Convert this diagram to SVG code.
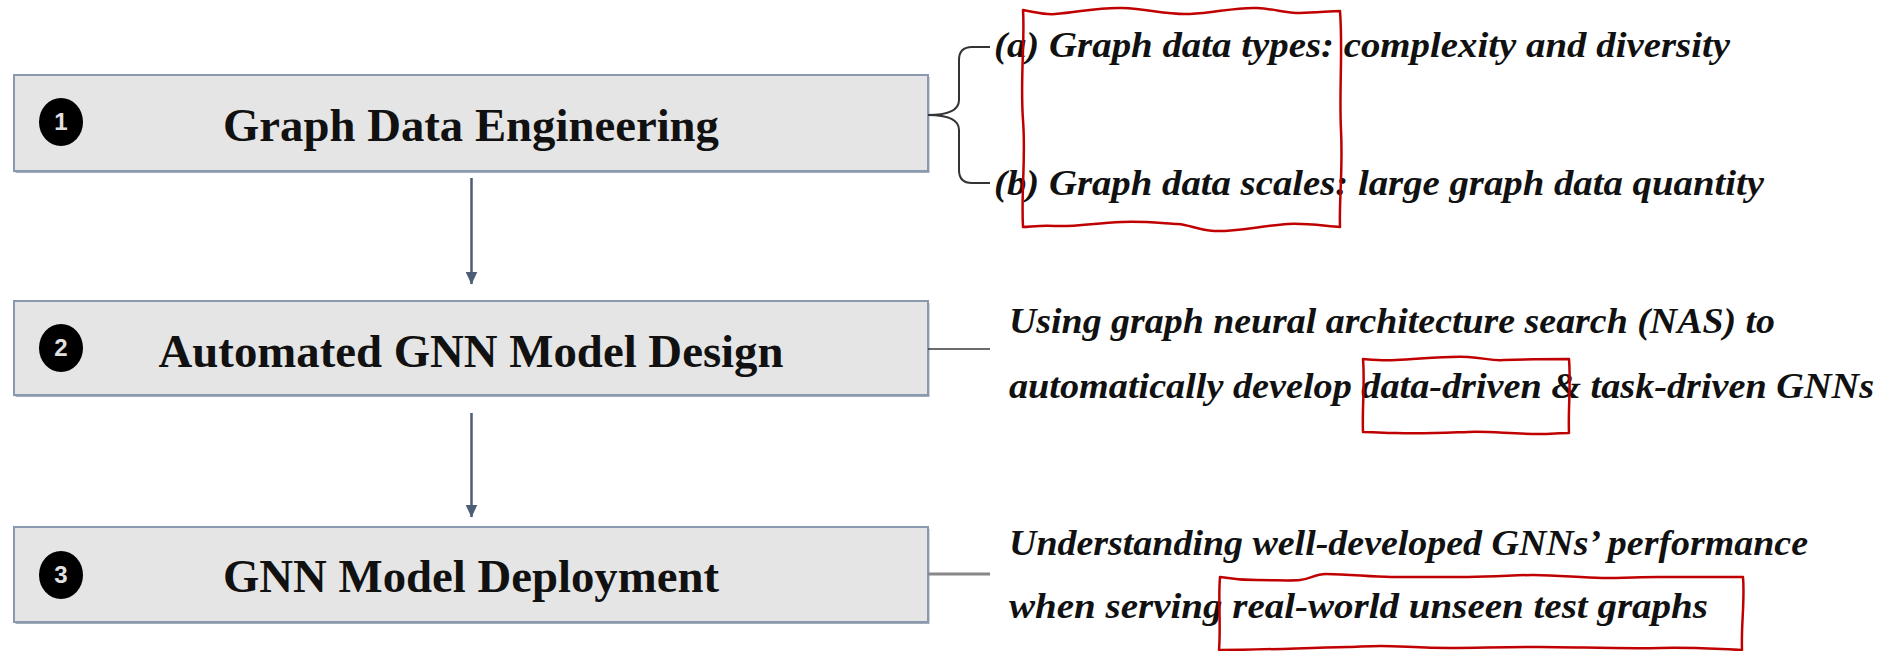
<svg xmlns="http://www.w3.org/2000/svg" width="1882" height="651" viewBox="0 0 1882 651">
<defs>
<style>
.box{fill:#e5e5e5;stroke:#8a99b0;stroke-width:2}
.shadow{fill:#a3abb9}
.title{font-family:"Liberation Serif",serif;font-weight:bold;font-size:46px;fill:#111;text-anchor:middle}
.num{fill:#000}
.numt{font-family:"Liberation Sans",sans-serif;font-weight:bold;font-size:24px;fill:#e0e0e0;text-anchor:middle}
.desc{font-family:"Liberation Serif",serif;font-weight:bold;font-style:italic;font-size:36px;fill:#111}
.red{fill:none;stroke:#c00000;stroke-width:2.5;stroke-linejoin:round}
.arrow{stroke:#4d5d75;stroke-width:2.5;fill:none}
</style>
<marker id="ah" markerWidth="6" markerHeight="6" refX="5" refY="3" orient="auto" markerUnits="strokeWidth">
<path d="M0,0.6 L5.2,3 L0,5.4 Z" fill="#4d5d75"/>
</marker>
</defs>
<rect width="1882" height="651" fill="#ffffff"/>

<g id="node1">
<rect class="shadow" x="15.5" y="77" width="914" height="96"/>
<rect class="box" x="14" y="75" width="914" height="96"/>
<ellipse class="num" cx="61" cy="122" rx="22" ry="24"/>
<text class="numt" x="61" y="130">1</text>
<text class="title" x="471" y="141" textLength="496" lengthAdjust="spacingAndGlyphs">Graph Data Engineering</text>
</g>

<g id="node2">
<rect class="shadow" x="15.5" y="303" width="914" height="94"/>
<rect class="box" x="14" y="301" width="914" height="94"/>
<ellipse class="num" cx="61" cy="348" rx="22" ry="24"/>
<text class="numt" x="61" y="356">2</text>
<text class="title" x="471" y="367" textLength="625" lengthAdjust="spacingAndGlyphs">Automated GNN Model Design</text>
</g>

<g id="node3">
<rect class="shadow" x="15.5" y="529" width="914" height="95"/>
<rect class="box" x="14" y="527" width="914" height="95"/>
<ellipse class="num" cx="61" cy="575" rx="22" ry="24"/>
<text class="numt" x="61" y="583">3</text>
<text class="title" x="471" y="592" textLength="496" lengthAdjust="spacingAndGlyphs">GNN Model Deployment</text>
</g>

<g id="desc1">
<text class="desc" x="994" y="57" textLength="736" lengthAdjust="spacingAndGlyphs">(a) Graph data types: complexity and diversity</text>
<text class="desc" x="994" y="195" textLength="770" lengthAdjust="spacingAndGlyphs">(b) Graph data scales: large graph data quantity</text>
</g>

<g id="desc2">
<text class="desc" x="1009" y="333" textLength="766" lengthAdjust="spacingAndGlyphs">Using graph neural architecture search (NAS) to</text>
<text class="desc" x="1009" y="398" textLength="865" lengthAdjust="spacingAndGlyphs">automatically develop data-driven &amp; task-driven GNNs</text>
</g>

<g id="desc3">
<text class="desc" x="1009" y="555" textLength="799" lengthAdjust="spacingAndGlyphs">Understanding well-developed GNNs’ performance</text>
<text class="desc" x="1009" y="618" textLength="699" lengthAdjust="spacingAndGlyphs">when serving real-world unseen test graphs</text>
</g>

<g id="connectors">
<line class="arrow" x1="471.5" y1="178" x2="471.5" y2="284" marker-end="url(#ah)"/>
<line class="arrow" x1="471.5" y1="413" x2="471.5" y2="517" marker-end="url(#ah)"/>
<path d="M928,115 C945,115 959,112 959,100 L959,60 C959,51 963,47 972,47 L990,47 M928,115 C945,115 959,118 959,130 L959,170 C959,179 963,183 972,183 L990,183" fill="none" stroke="#333" stroke-width="2"/>
<line x1="928" y1="349" x2="990" y2="349" stroke="#3a3a3a" stroke-width="1.6"/>
<line x1="928" y1="574" x2="990" y2="574" stroke="#888" stroke-width="3"/>
</g>

<g id="highlights">
<path class="red" d="M1023,10 C1035,12 1045,15 1055,14 C1080,12 1100,7 1122,8 C1150,9 1165,15 1190,14 C1215,13 1235,7 1257,8 C1275,9 1285,13 1300,13 C1315,13 1330,11 1340,11 C1343,50 1339,90 1341,130 C1343,170 1339,200 1340,227 C1325,226 1305,223 1288,224 C1260,226 1235,232 1214,231 C1198,230 1190,225 1178,224 C1160,223 1140,221 1122,222 C1095,223 1075,227 1055,226 C1040,225 1030,227 1023,227 C1021,190 1026,160 1023,120 C1020,80 1025,40 1023,10 Z"/>
<path class="red" d="M1363,359 C1375,360 1385,361 1396,360 C1420,359 1445,356 1468,357 C1485,358 1492,361 1504,360 C1530,359 1550,359 1569,359 C1571,385 1568,410 1569,433 C1560,433 1550,434 1540,434 C1510,434 1490,431 1468,432 C1440,433 1420,434 1396,433 C1385,433 1372,432 1363,432 C1362,408 1365,385 1363,359 Z"/>
<path class="red" d="M1220,577 C1232,579 1245,580 1257,580 C1275,580 1290,581 1300,580 C1310,579 1315,574 1326,574 C1350,574 1370,577 1391,577 C1420,577 1445,577 1468,577 C1495,577 1515,575 1533,575 C1560,575 1580,578 1602,578 C1625,578 1640,577 1659,577 C1690,577 1720,577 1743,577 C1745,600 1741,625 1742,650 C1715,649 1690,647 1660,648 C1620,649 1575,647 1540,647 C1505,647 1475,648 1450,648 C1420,648 1400,646 1381,646 C1365,646 1358,647 1348,647 C1300,648 1260,650 1219,650 C1221,625 1218,600 1220,577 Z"/>
</g>
</svg>
